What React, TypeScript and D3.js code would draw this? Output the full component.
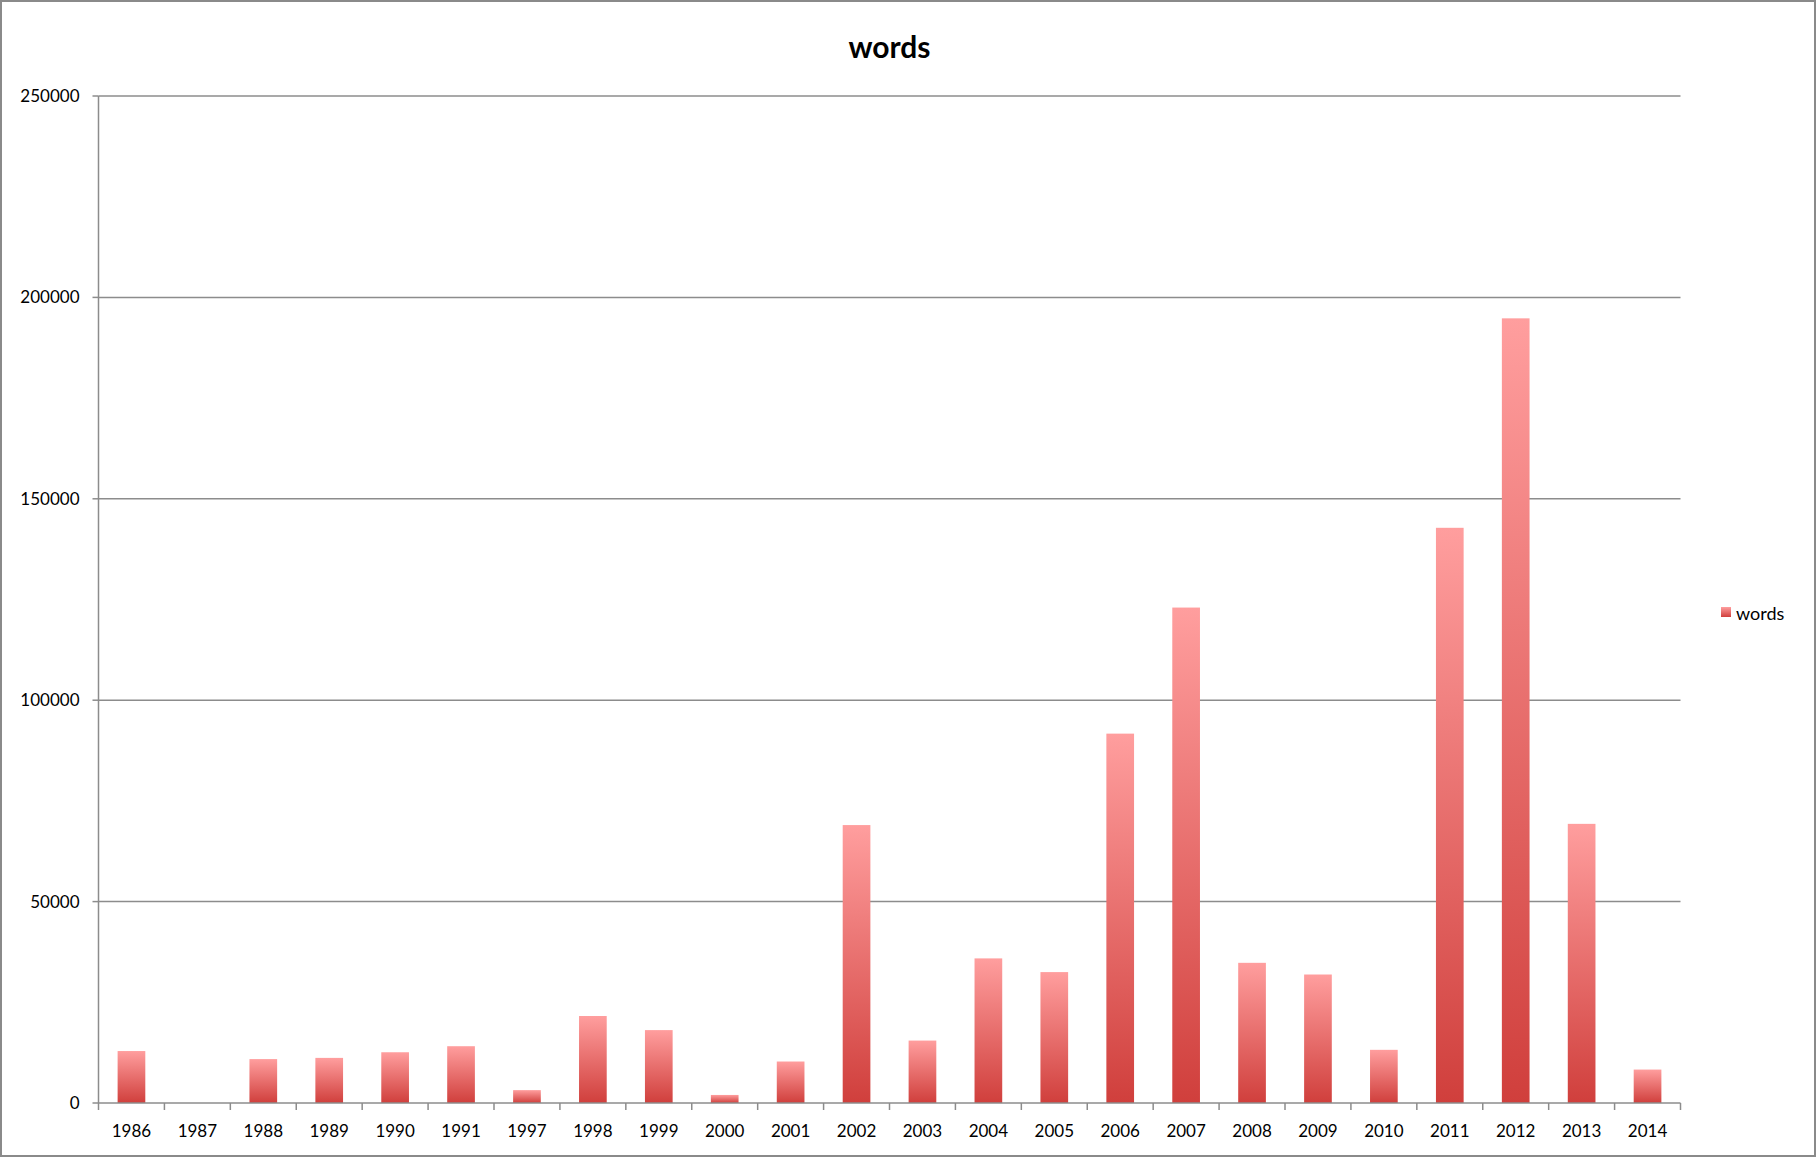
import React from "react";
import * as d3 from "d3";

const years = ["1986","1987","1988","1989","1990","1991","1997","1998","1999","2000","2001","2002","2003","2004","2005","2006","2007","2008","2009","2010","2011","2012","2013","2014"];
const words = [12900,0,10900,11200,12600,14100,3200,21600,18100,2000,10300,69000,15500,35900,32500,91700,123000,34800,31900,13200,142800,194800,69300,8300];
const yTicks = [0,50000,100000,150000,200000,250000];

const W = 1817, H = 1158;
const L = 98.5, R = 1680.5, T = 96, B = 1103;

export default function App() {
  const x = d3.scaleBand<string>().domain(years).range([L, R]);
  const y = d3.scaleLinear().domain([0, 250000]).range([B, T]);
  const bw = x.bandwidth() * 0.42;
  const font = "Lato, 'Open Sans', sans-serif";
  return (
    <svg width={W} height={H} style={{ position: "absolute", left: 0, top: 0 }} fontFamily={font}>
      <defs>
        <linearGradient id="g" x1="0" y1="0" x2="0" y2="1">
          <stop offset="0" stopColor="#ff9e9e" />
          <stop offset="1" stopColor="#d03f3c" />
        </linearGradient>
      </defs>
      <rect x={1} y={1} width={W - 3} height={H - 3} fill="#fff" stroke="#8a8a8a" strokeWidth={2} />
      <text x={(L + R) / 2} y={58} textAnchor="middle" fontSize={30} fontWeight="bold">words</text>
      {yTicks.map(t => (
        <g key={t}>
          {t > 0 && <line x1={L} x2={R} y1={y(t)} y2={y(t)} stroke="#8c8c8c" strokeWidth={1.5} />}
          <line x1={L - 6} x2={L} y1={y(t)} y2={y(t)} stroke="#8c8c8c" strokeWidth={1.5} />
          <text x={L - 19} y={y(t) + 6} textAnchor="end" fontSize={17}>{t}</text>
        </g>
      ))}
      <line x1={L} x2={L} y1={T} y2={B} stroke="#8c8c8c" strokeWidth={1.5} />
      {years.map((yr, i) => (
        <g key={yr}>
          {words[i] > 0 && (
            <rect x={x(yr)! + (x.bandwidth() - bw) / 2} y={y(words[i])} width={bw} height={B - y(words[i])} fill="url(#g)" />
          )}
          <text x={x(yr)! + x.bandwidth() / 2} y={B + 34} textAnchor="middle" fontSize={17}>{yr}</text>
        </g>
      ))}
      {[...years.map(yr => x(yr)!), R].map((p, i) => (
        <line key={i} x1={p} x2={p} y1={B} y2={B + 7} stroke="#8c8c8c" strokeWidth={1.5} />
      ))}
      <line x1={L} x2={R} y1={B} y2={B} stroke="#8c8c8c" strokeWidth={1.5} />
      <rect x={1721} y={607} width={10} height={10} fill="url(#g)" />
      <text x={1736} y={620} fontSize={18}>words</text>
    </svg>
  );
}
